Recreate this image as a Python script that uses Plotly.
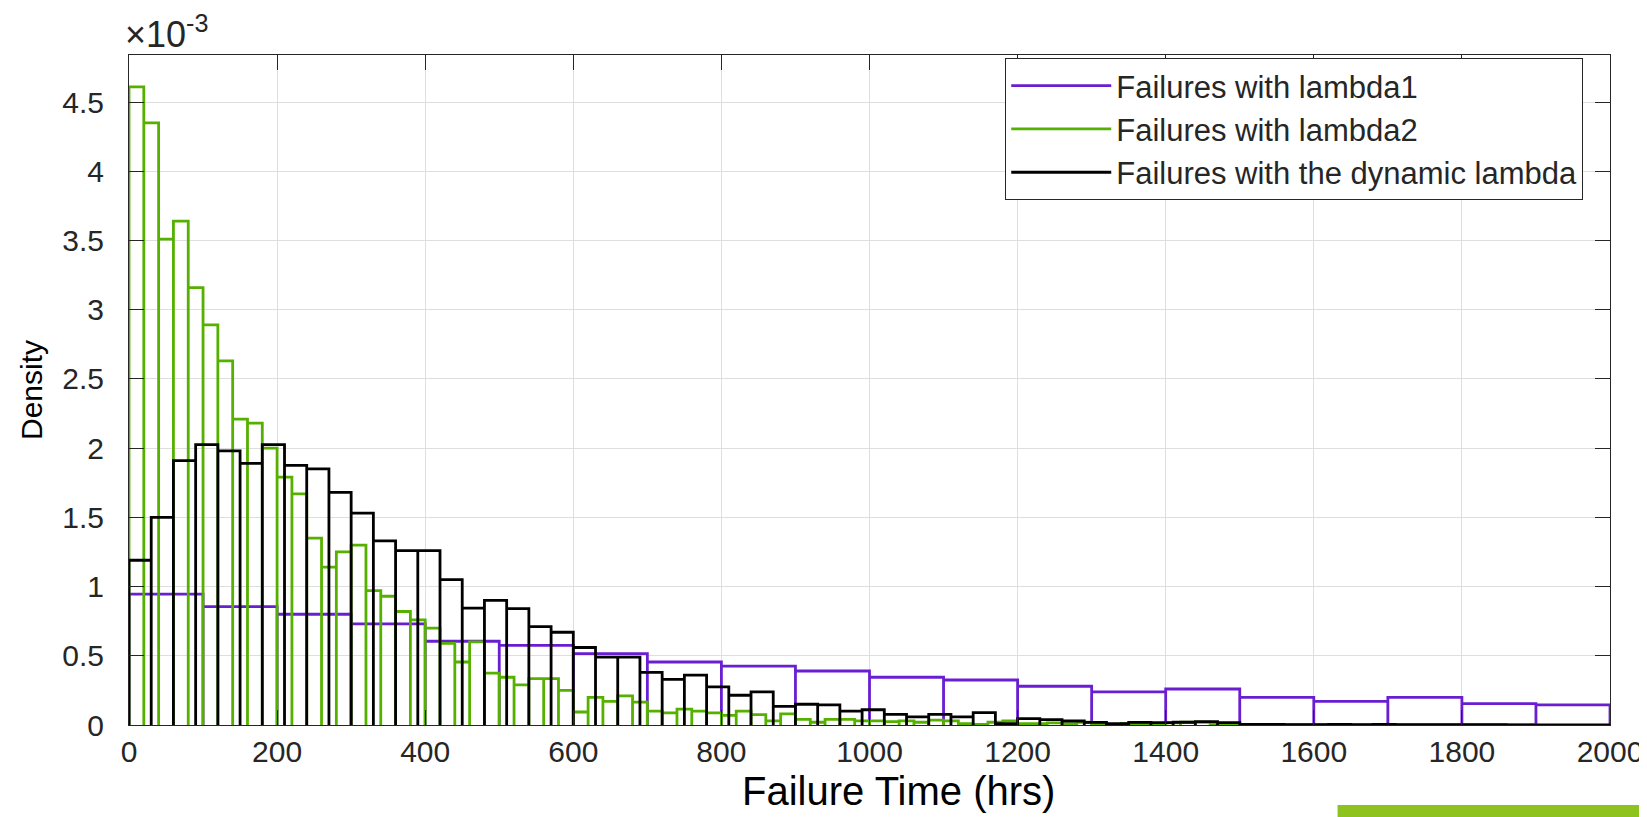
import plotly.graph_objects as go

# ---------------- data (density values in units of 1e-3) ----------------
lambda1_bin_width = 100
lambda1_density = [0.945, 0.855, 0.80, 0.73, 0.605, 0.575, 0.515, 0.455, 0.425, 0.39,
                   0.345, 0.325, 0.28, 0.24, 0.26, 0.20, 0.17, 0.20, 0.155, 0.145]

lambda2_bin_width = 20
lambda2_density = [4.61, 4.35, 3.51, 3.64, 3.16, 2.89, 2.63, 2.21, 2.18, 2.00,
                   1.79, 1.67, 1.35, 1.14, 1.25, 1.30, 0.97, 0.93, 0.82, 0.76,
                   0.70, 0.59, 0.455, 0.60, 0.375, 0.345, 0.29, 0.335, 0.335, 0.25,
                   0.094, 0.20, 0.17, 0.21, 0.165, 0.10, 0.087, 0.115, 0.10, 0.087,
                   0.07, 0.10, 0.075, 0.03, 0.08, 0.04, 0.02, 0.04, 0.04, 0.03,
                   0.03, 0.025, 0.03, 0.02, 0.035, 0.03, 0.01, 0.005, 0.02, 0.03,
                   0.01, 0.01, 0.015, 0.01, 0.02, 0.01, 0.005, 0.01, 0.005, 0.01,
                   0.015, 0.02, 0.02, 0.01, 0.005, 0.003, 0.005, 0.003, 0.002, 0.003,
                   0.002, 0.003, 0.001, 0.0, 0.002, 0.001, 0.002, 0.0, 0.001, 0.002,
                   0.003, 0.001, 0.0, 0.001, 0.002]

dynamic_bin_width = 30
dynamic_density = [1.19, 1.50, 1.91, 2.025, 1.98, 1.89, 2.025, 1.875, 1.85, 1.68,
                   1.53, 1.33, 1.26, 1.26, 1.05, 0.845, 0.90, 0.84, 0.71, 0.67,
                   0.56, 0.49, 0.49, 0.38, 0.33, 0.36, 0.275, 0.215, 0.24, 0.135,
                   0.15, 0.145, 0.10, 0.11, 0.077, 0.058, 0.077, 0.058, 0.089, 0.01,
                   0.046, 0.039, 0.029, 0.019, 0.01, 0.019, 0.017, 0.02, 0.024, 0.017,
                   0.005, 0.004, 0.003, 0.003, 0.005, 0.002, 0.004, 0.003, 0.002, 0.003,
                   0.002, 0.002, 0.001, 0.002, 0.001, 0.001, 0.001]

series_names = ["Failures with lambda1", "Failures with lambda2",
                "Failures with the dynamic lambda"]
series_colors = ["#6A1ED2", "#55B000", "#000000"]

x_ticks = list(range(0, 2001, 200))
y_ticks = [0, 0.5, 1, 1.5, 2, 2.5, 3, 3.5, 4, 4.5]
y_tick_labels = ["0", "0.5", "1", "1.5", "2", "2.5", "3", "3.5", "4", "4.5"]
x_title = "Failure Time (hrs)"
y_title = "Density"


def histogram_outline(width, values):
    """Edge-only (MATLAB-like) outline of a histogram."""
    xs, ys = [], []
    for i, v in enumerate(values):
        left, right = i * width, (i + 1) * width
        xs += [left, left, right, right]
        ys += [0, v, v, 0]
    return xs, ys


fig = go.Figure()
for (w, vals), name, color in zip(
        [(lambda1_bin_width, lambda1_density),
         (lambda2_bin_width, lambda2_density),
         (dynamic_bin_width, dynamic_density)],
        series_names, series_colors):
    xs, ys = histogram_outline(w, vals)
    fig.add_trace(go.Scatter(x=xs, y=ys, mode="lines", name=name,
                             line=dict(color=color, width=2.8),
                             hoverinfo="skip"))

axis_col = "#262626"
grid_col = "#DEDEDE"
L, R, T, B = 121, 42, 47, 100
W, H = 1647, 817
pw = W - L - R
ph = H - T - B

fig.update_layout(
    width=W, height=H,
    margin=dict(l=L, r=R, t=T, b=B),
    paper_bgcolor="white", plot_bgcolor="white",
    font=dict(family="Liberation Sans, Arial, sans-serif", color=axis_col, size=30),
    showlegend=True,
    legend=dict(x=(999 - L) / pw, y=(H - B - 50) / ph, xanchor="left", yanchor="top",
                bgcolor="white", bordercolor=axis_col, borderwidth=1,
                font=dict(size=31, color=axis_col), itemwidth=100,
                tracegroupgap=0),
    xaxis=dict(range=[0, 2000], tickvals=x_ticks, ticks="inside", ticklen=15,
               tickcolor=axis_col, showline=True, linecolor=axis_col, linewidth=1,
               mirror="ticks", showgrid=True, gridcolor=grid_col, zeroline=False,
               tickfont=dict(size=30)),
    yaxis=dict(range=[0, 4.84], tickvals=y_ticks, ticktext=y_tick_labels,
               ticks="inside", ticklen=15, tickcolor=axis_col, showline=True,
               linecolor=axis_col, linewidth=1, mirror="ticks", showgrid=True,
               gridcolor=grid_col, zeroline=False, tickfont=dict(size=30),
               ticklabelstandoff=18,
               title=dict(text=y_title, font=dict(size=30, color="black"),
                          standoff=10)),
)

# x-axis title (slightly right of centre, as in the original)
fig.add_annotation(xref="paper", yref="paper", x=0.5 + 29 / pw, y=0,
                   xanchor="center", yanchor="middle", yshift=-66,
                   showarrow=False, text=x_title,
                   font=dict(size=40, color="black"))

# exponent label
fig.add_annotation(xref="paper", yref="paper", x=0, y=1, xanchor="left",
                   yanchor="bottom", yshift=-2, xshift=-6, showarrow=False,
                   text="×10<sup>-3</sup>", font=dict(size=36, color=axis_col))

# decorative slide bar at bottom right
fig.add_shape(type="rect", xref="paper", yref="paper",
              x0=(1332 - L) / pw, x1=(W - L) / pw + 0.01,
              y0=(H - B - 813) / ph, y1=(H - B - 797) / ph,
              fillcolor="#8DC21F", line=dict(width=0), layer="above")
fig.add_shape(type="rect", xref="paper", yref="paper",
              x0=(1332 - L) / pw, x1=(W - L) / pw + 0.01,
              y0=(H - B - 818) / ph, y1=(H - B - 813) / ph,
              fillcolor="#1F5FA8", line=dict(width=0), layer="above")

fig.write_html("out.html")
